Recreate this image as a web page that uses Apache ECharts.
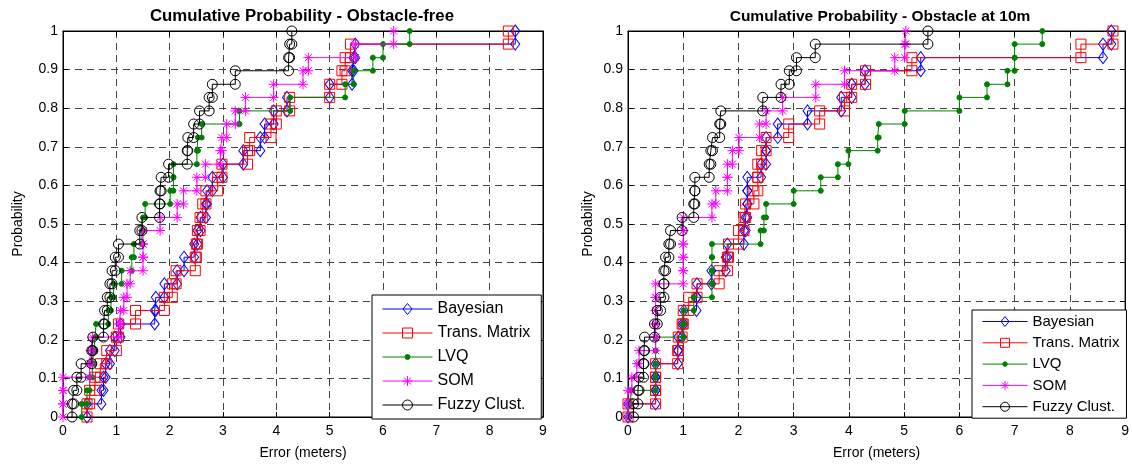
<!DOCTYPE html>
<html><head><meta charset="utf-8">
<script src="https://cdn.jsdelivr.net/npm/echarts@6/dist/echarts.min.js"></script>
<style>html,body{margin:0;padding:0;background:#fff}#c{width:1132px;height:466px}</style>
</head><body><div id="c"></div>
<script>
// ---------- data ----------
const seriesNames = ['Bayesian', 'Trans. Matrix', 'LVQ', 'SOM', 'Fuzzy Clust.'];
const chartTitles = ['Cumulative Probability - Obstacle-free', 'Cumulative Probability - Obstacle at 10m'];
const xAxisName = 'Error (meters)';
const yAxisName = 'Probability';
const xTickLabels = ['0','1','2','3','4','5','6','7','8','9'];
const yTickLabels = ['0','0.1','0.2','0.3','0.4','0.5','0.6','0.7','0.8','0.9','1'];
// cumulative probability reached after each sorted error sample (29 samples)
const cdfLevels = [0.034,0.069,0.103,0.138,0.172,0.207,0.241,0.276,0.310,0.345,0.379,0.414,0.448,0.483,0.517,0.552,0.586,0.621,0.655,0.690,0.724,0.759,0.793,0.828,0.862,0.897,0.931,0.966,1.0];

// Obstacle-free: sorted errors (m)
const bayesFree = [0.45,0.72,0.76,0.8,0.88,0.97,1.08,1.72,1.74,1.9,2.14,2.27,2.46,2.52,2.58,2.68,2.7,2.8,3.0,3.38,3.7,3.78,3.95,4.2,5.0,5.42,5.45,5.48,8.48];
const transFree = [0.45,0.5,0.6,0.7,0.82,1.0,1.04,1.36,1.9,2.05,2.12,2.48,2.5,2.52,2.57,2.62,2.68,2.9,2.98,3.46,3.5,3.9,4.0,4.25,5.0,5.23,5.29,5.39,8.35];
const lvqFree   = [0.35,0.45,0.5,0.55,0.58,0.6,0.62,0.85,0.9,0.95,1.1,1.29,1.33,1.48,1.5,1.54,2.01,2.07,2.07,2.51,2.53,2.6,3.31,4.26,5.29,5.45,5.81,6.0,6.5];
const somFree   = [0,0,0,0.5,0.52,0.55,1.05,1.08,1.14,1.2,1.26,1.5,1.5,1.5,1.82,2.14,2.26,2.51,2.67,2.95,2.98,3.07,3.23,3.42,3.95,4.5,4.6,5.48,6.2];
const fuzzyFree = [0.17,0.2,0.26,0.34,0.54,0.56,0.76,0.78,0.83,0.88,0.92,0.98,1.04,1.44,1.48,1.81,1.82,1.84,1.98,2.33,2.34,2.45,2.56,2.74,2.8,3.23,4.23,4.25,4.29];

// Obstacle at 10m: sorted errors (m)
const bayesObs = [0.0,0.5,0.5,0.5,0.9,0.91,0.98,1.01,1.24,1.25,1.51,1.77,1.8,2.1,2.13,2.16,2.16,2.16,2.41,2.5,2.5,2.71,3.25,3.86,4.05,4.29,5.3,8.6,8.75];
const transObs = [0.0,0.5,0.5,0.5,0.9,0.91,0.98,1.0,1.1,1.25,1.65,1.8,1.82,2.0,2.1,2.13,2.28,2.35,2.35,2.42,2.5,2.91,3.47,3.92,4.05,4.3,5.14,8.2,8.78];
const lvqObs   = [0.0,0.05,0.5,0.5,0.5,0.5,1.0,1.01,1.19,1.52,1.52,1.52,1.52,2.4,2.46,2.5,3.0,3.49,3.8,3.99,4.52,4.54,5.01,6.0,6.5,6.87,7.0,7.0,7.5];
const somObs   = [0.0,0.0,0.07,0.16,0.2,0.5,0.5,0.5,0.5,0.5,1.0,1.0,1.0,1.0,1.0,1.52,1.59,1.8,1.8,1.89,2.01,2.38,2.5,2.8,3.4,3.92,4.83,5.01,5.03];
const fuzzyObs = [0.1,0.18,0.2,0.28,0.29,0.3,0.48,0.53,0.59,0.65,0.65,0.68,0.74,0.77,0.98,1.19,1.21,1.21,1.47,1.5,1.53,1.66,1.68,2.44,2.77,2.92,3.05,3.39,5.43];

// ---------- build ----------
const FONT = '"Liberation Sans", Arial, sans-serif';
function stairs(xs) {
  const pts = [[xs[0], 0]];
  for (let i = 0; i < xs.length; i++) {
    pts.push([xs[i], cdfLevels[i]]);
    if (i + 1 < xs.length) pts.push([xs[i + 1], cdfLevels[i]]);
  }
  return pts;
}
const asterisk = 'path://M5,0L5,10M0,5L10,5M1.5,1.5L8.5,8.5M1.5,8.5L8.5,1.5';
const styles = [
  {color: '#0000ff', symbol: 'diamond', size: [9, 12], fill: 'rgba(0,0,0,0)'},
  {color: '#ff0000', symbol: 'rect', size: 10, fill: 'rgba(0,0,0,0)'},
  {color: '#008000', symbol: 'circle', size: 5, fill: '#008000'},
  {color: '#ff00ff', symbol: asterisk, size: 10, fill: 'rgba(0,0,0,0)'},
  {color: '#000000', symbol: 'circle', size: 10, fill: 'rgba(0,0,0,0)'}
];
// legend sample icons: a line with the marker in its middle (box 50 x 12)
const legendIcons = [
  'path://M0,6L50,6M25,0.5L29.5,6L25,11.5L20.5,6Z',
  'path://M0,6L50,6M20,1L30,1L30,11L20,11Z',
  'path://M0,6L50,6M27.5,6A2.5,2.5 0 1,1 22.5,6A2.5,2.5 0 1,1 27.5,6Z',
  'path://M0,6L50,6M25,1L25,11M20,6L30,6M21.5,2.5L28.5,9.5M21.5,9.5L28.5,2.5',
  'path://M0,6L50,6M30,6A5,5 0 1,1 20,6A5,5 0 1,1 30,6Z'
];
const panels = [
  [bayesFree, transFree, lvqFree, somFree, fuzzyFree],
  [bayesObs, transObs, lvqObs, somObs, fuzzyObs]
];
const grids = [
  {left: 63, top: 31, width: 480, height: 386},
  {left: 628, top: 31, width: 500, height: 386}
];

const series = [];
panels.forEach((sets, g) => {
  sets.forEach((xs, i) => {
    const s = styles[i];
    series.push({
      type: 'line', name: seriesNames[i], xAxisIndex: g, yAxisIndex: g,
      data: stairs(xs), symbol: s.symbol, symbolSize: s.size, showAllSymbol: true,
      lineStyle: {color: s.color, width: 1},
      itemStyle: {color: s.fill, borderColor: s.color, borderWidth: 1},
      emphasis: {disabled: true}, z: 3 + i, clip: false
    });
  });
});

const xAxes = [], yAxes = [];
grids.forEach((gr, g) => {
  xAxes.push({
    type: 'value', gridIndex: g, min: 0, max: 9, interval: 1, position: 'bottom',
    name: xAxisName, nameLocation: 'middle', nameGap: 29,
    nameTextStyle: {fontFamily: FONT, fontSize: 14, color: '#000'},
    axisLine: {show: true, onZero: false, lineStyle: {color: '#000', width: 1}},
    axisTick: {show: true, inside: true, length: 5, lineStyle: {color: '#000'}},
    axisLabel: {fontFamily: FONT, fontSize: 14, color: '#000', margin: 7,
      formatter: v => xTickLabels[Math.round(v)]},
    splitLine: {show: true, lineStyle: {color: '#444', type: [7, 5], width: 1}}
  });
  yAxes.push({
    type: 'value', gridIndex: g, min: 0, max: 1, interval: 0.1, position: 'left',
    name: yAxisName, nameLocation: 'middle', nameGap: g === 0 ? 38 : 33, nameRotate: 90,
    nameTextStyle: {fontFamily: FONT, fontSize: 14, color: '#000'},
    axisLine: {show: true, onZero: false, lineStyle: {color: '#000', width: 1}},
    axisTick: {show: true, inside: true, length: 5, lineStyle: {color: '#000'}},
    axisLabel: {fontFamily: FONT, fontSize: 14, color: '#000', margin: 5,
      formatter: v => yTickLabels[Math.round(v * 10)]},
    splitLine: {show: true, lineStyle: {color: '#444', type: [7, 5], width: 1}}
  });
});
// mirrored top / right axes for box ticks
grids.forEach((gr, g) => {
  xAxes.push({type: 'value', gridIndex: g, min: 0, max: 9, interval: 1, position: 'top',
    axisLine: {show: true, onZero: false, lineStyle: {color: '#000'}},
    axisTick: {show: true, inside: true, length: 5, lineStyle: {color: '#000'}},
    axisLabel: {show: false}, splitLine: {show: false}});
  yAxes.push({type: 'value', gridIndex: g, min: 0, max: 1, interval: 0.1, position: 'right',
    axisLine: {show: true, onZero: false, lineStyle: {color: '#000'}},
    axisTick: {show: true, inside: true, length: 5, lineStyle: {color: '#000'}},
    axisLabel: {show: false}, splitLine: {show: false}});
});

const legendData = seriesNames.map((n, i) => ({
  name: n, icon: legendIcons[i],
  itemStyle: {color: styles[i].fill, borderColor: styles[i].color, borderWidth: 1}
}));
const legendCommon = {
  orient: 'vertical', selectedMode: false, backgroundColor: '#fff',
  borderColor: '#000', borderWidth: 1, borderRadius: 0, symbolKeepAspect: true,
  itemWidth: 50, itemHeight: 12, data: legendData
};
const option = {
  animation: false,
  backgroundColor: '#fff',
  title: [
    {text: chartTitles[0], left: 297, top: 3, textAlign: 'center',
     textStyle: {fontFamily: FONT, fontSize: 16.8, fontWeight: 'bold', color: '#000'}},
    {text: chartTitles[1], left: 875, top: 4, textAlign: 'center',
     textStyle: {fontFamily: FONT, fontSize: 15.5, fontWeight: 'bold', color: '#000'}}
  ],
  legend: [
    Object.assign({}, legendCommon, {left: 372, top: 295, padding: [6, 11, 6, 10], itemGap: 8,
      textStyle: {fontFamily: FONT, fontSize: 16, color: '#000'}}),
    Object.assign({}, legendCommon, {left: 972, top: 310, padding: [4, 7, 4, 10], itemGap: 6.3,
      itemWidth: 45, textStyle: {fontFamily: FONT, fontSize: 15, color: '#000'}})
  ],
  grid: grids.map(g => Object.assign({show: true, borderColor: '#000', borderWidth: 1, backgroundColor: '#fff'}, g)),
  xAxis: xAxes,
  yAxis: yAxes,
  series: series
};
const chart = echarts.init(document.getElementById('c'), null, {renderer: 'canvas'});
chart.setOption(option);
</script></body></html>
